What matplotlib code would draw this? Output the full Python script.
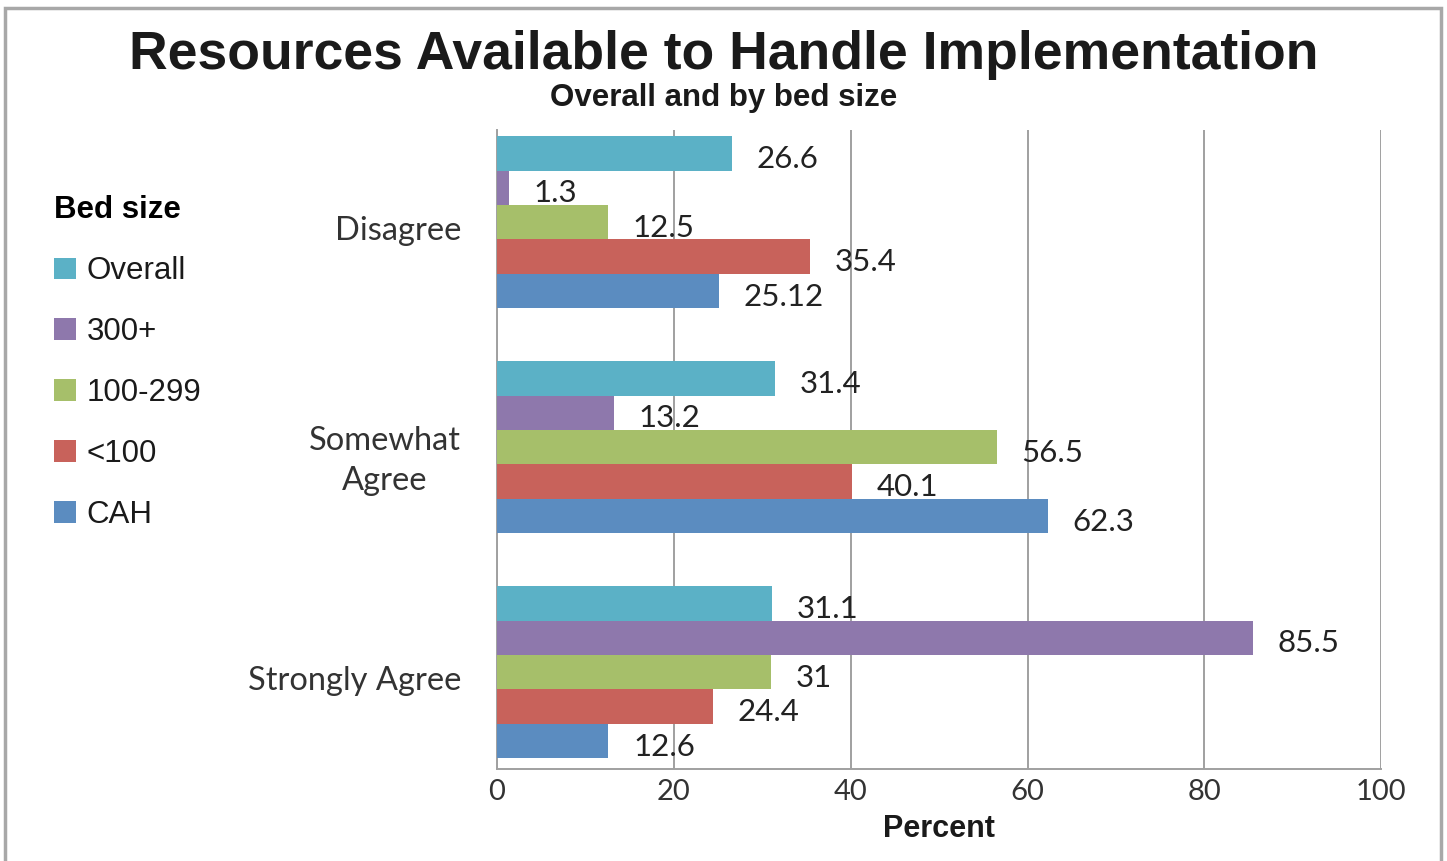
import numpy as np
import matplotlib
matplotlib.use("Agg")
import matplotlib.pyplot as plt
from matplotlib.patches import Rectangle

# data
categories = ["Disagree", "Somewhat\nAgree", "Strongly Agree"]
series_names = ["Overall", "300+", "100-299", "<100", "CAH"]
overall = [26.6, 31.4, 31.1]
beds_300 = [1.3, 13.2, 85.5]
beds_100_299 = [12.5, 56.5, 31]
beds_lt100 = [35.4, 40.1, 24.4]
cah = [25.12, 62.3, 12.6]
value_labels = [["26.6", "31.4", "31.1"],
                ["1.3", "13.2", "85.5"],
                ["12.5", "56.5", "31"],
                ["35.4", "40.1", "24.4"],
                ["25.12", "62.3", "12.6"]]
colors = ["#5BB1C6", "#8E78AC", "#A6BF6A", "#C8625B", "#5B8CC0"]

series = [overall, beds_300, beds_100_299, beds_lt100, cah]

head_font = "Liberation Sans"
body_font = "Lato"

fig = plt.figure(figsize=(14.47, 8.61), dpi=100)
ax = fig.add_axes([0.3435, 0.107, 0.611, 0.742])

y = np.arange(len(categories))
h = 0.153
handles = []
for i, (vals, name, col) in enumerate(zip(series, series_names, colors)):
    pos = y + (i - 2) * h
    b = ax.barh(pos, vals, height=h, color=col, label=name, zorder=3)
    handles.append(b)
    for p, v, lab in zip(pos, vals, value_labels[i]):
        ax.text(v + 2.8, p + 0.025, lab, va="center", ha="left",
                fontsize=22.5, family=body_font, color="#222222", zorder=4)

ax.set_xlim(0, 100)
ax.set_ylim(2.43, -0.41)
ax.set_xticks([0, 20, 40, 60, 80, 100])
# category labels sit a little below the group centre
ax.set_yticks(y + 0.027)
ax.set_yticklabels(categories)
for t in ax.get_yticklabels():
    t.set_multialignment("center")
    t.set_linespacing(1.4)
    t.set_family(body_font)
    t.set_fontsize(23.5)
    t.set_color("#333333")
for t in ax.get_xticklabels():
    t.set_family(body_font)
    t.set_fontsize(21)
    t.set_color("#333333")
ax.tick_params(axis="y", length=0, pad=26)
ax.tick_params(axis="x", length=0, pad=7)

ax.grid(axis="x", color="#a0a0a0", linewidth=1.4, zorder=0)
for s in ["top", "right"]:
    ax.spines[s].set_visible(False)
for s in ["left", "bottom"]:
    ax.spines[s].set_color("#a0a0a0")
    ax.spines[s].set_linewidth(1.4)

ax.set_xlabel("Percent", fontsize=22, fontweight="bold", family=head_font,
              color="#1a1a1a", labelpad=7)

fig.text(0.5, 0.936, "Resources Available to Handle Implementation",
         ha="center", va="center", fontsize=38.5, fontweight="bold",
         family=head_font, color="#1a1a1a")
fig.text(0.5, 0.886, "Overall and by bed size", ha="center", va="center",
         fontsize=22.5, fontweight="bold", family=head_font, color="#1a1a1a")

leg = fig.legend(handles=handles, labels=series_names, title="Bed size",
                 loc="upper left", bbox_to_anchor=(0.02, 0.802),
                 frameon=False, alignment="left",
                 prop={"family": head_font, "size": 22.5},
                 title_fontproperties={"family": head_font, "size": 22.5,
                                       "weight": "bold"},
                 handlelength=0.7, handleheight=0.7, handletextpad=0.35,
                 labelspacing=0.99, borderpad=0.3)
for t in leg.get_texts():
    t.set_color("#1a1a1a")

# outer frame
fig.patches.append(Rectangle((5 / 1447, -0.01), 1436 / 1447, 1 - 8 / 861 + 0.01,
                             transform=fig.transFigure, fill=False,
                             edgecolor="#a8a8a8", linewidth=2.5))

fig.savefig("out.png", dpi=100)
